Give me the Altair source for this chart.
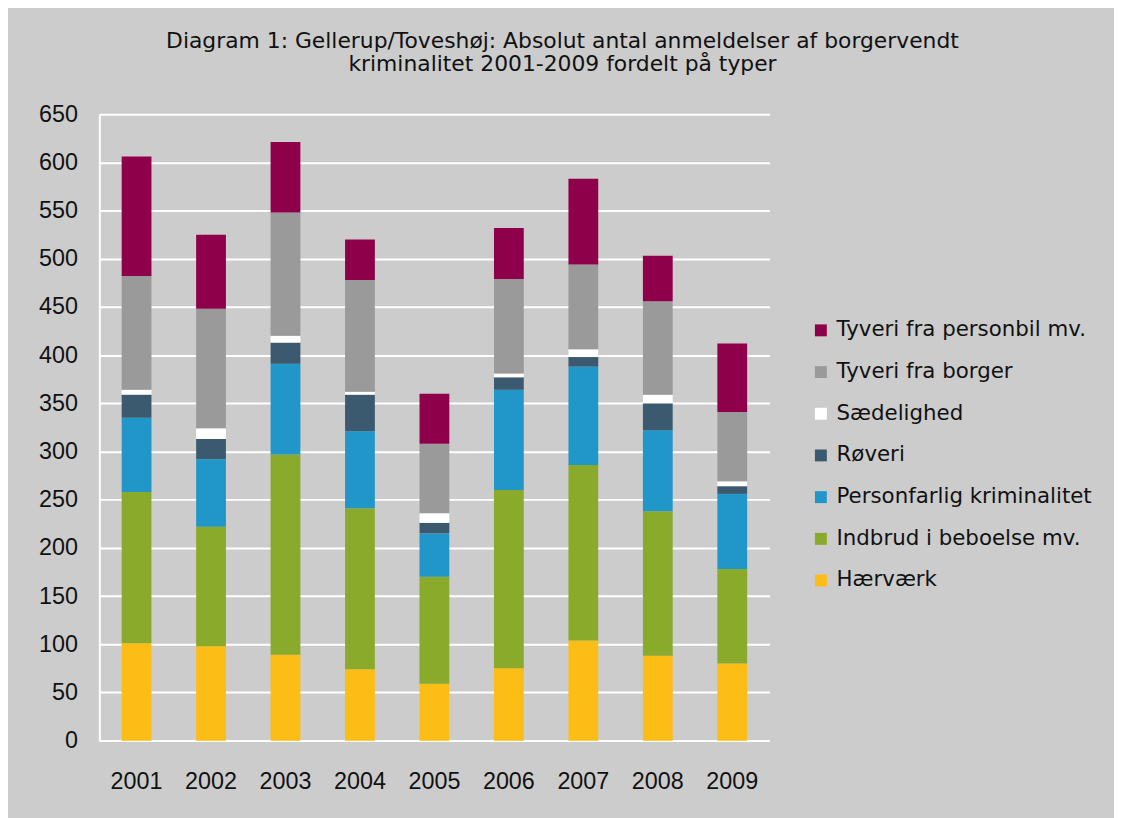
import altair as alt
import pandas as pd

years = ["2001", "2002", "2003", "2004", "2005", "2006", "2007", "2008", "2009"]

# stacking order: bottom to top
categories = [
    "Hærværk",
    "Indbrud i beboelse mv.",
    "Personfarlig kriminalitet",
    "Røveri",
    "Sædelighed",
    "Tyveri fra borger",
    "Tyveri fra personbil mv.",
]

haervaerk = [101, 98, 89, 74, 59, 75, 104, 88, 80]
indbrud = [157, 124, 208, 167, 111, 185, 182, 150, 98]
personfarlig = [77, 70, 94, 80, 45, 104, 102, 84, 78]
roeveri = [24, 21, 22, 38, 11, 13, 10, 28, 8]
saedelighed = [5, 11, 7, 3, 10, 4, 8, 9, 5]
tyveri_borger = [118, 124, 128, 116, 72, 98, 88, 97, 72]
tyveri_personbil = [124, 77, 73, 42, 52, 53, 89, 47, 71]

series = [haervaerk, indbrud, personfarlig, roeveri, saedelighed,
          tyveri_borger, tyveri_personbil]

colors = ["#fdbd17", "#8aaa2b", "#2196c8", "#3b5a6f", "#ffffff", "#9a9a9a", "#8f004a"]

y_ticks = list(range(0, 651, 50))

rows = []
for ci, (cat, vals) in enumerate(zip(categories, series)):
    for yr, v in zip(years, vals):
        rows.append({"year": yr, "type": cat, "value": v, "rank": ci})
df = pd.DataFrame(rows)

legend_order = categories[::-1]
color_range = colors[::-1]

label_font = "Liberation Sans"
text_font = "DejaVu Sans, sans-serif"

chart = (
    alt.Chart(df)
    .mark_bar(size=30)
    .encode(
        x=alt.X(
            "year:N",
            sort=years,
            title=None,
            scale=alt.Scale(paddingInner=0.6, paddingOuter=0.3),
            axis=alt.Axis(
                labelAngle=0,
                ticks=False,
                labelPadding=29,
                labelFont=label_font,
                labelFontSize=23.5,
                labelColor="#111111",
                domainColor="#ffffff",
                domainWidth=2,
                grid=False,
            ),
        ),
        y=alt.Y(
            "value:Q",
            stack="zero",
            title=None,
            scale=alt.Scale(domain=[0, 650], nice=False),
            axis=alt.Axis(
                values=y_ticks,
                ticks=False,
                labelPadding=22,
                labelFont=label_font,
                labelFontSize=23.5,
                labelColor="#111111",
                domainColor="#ffffff",
                domainWidth=2,
                gridColor="#ffffff",
                gridWidth=2,
            ),
        ),
        color=alt.Color(
            "type:N",
            scale=alt.Scale(domain=legend_order, range=color_range),
            legend=alt.Legend(
                title=None,
                orient="none",
                legendX=716,
                legendY=207,
                symbolType="square",
                symbolSize=144,
                symbolStrokeWidth=0,
                symbolOpacity=1,
                labelFont=text_font,
                labelFontSize=21.5,
                labelColor="#111111",
                labelOffset=5,
                rowPadding=19,
                padding=0,
                labelLimit=400,
            ),
        ),
        order=alt.Order("rank:Q", sort="ascending"),
    )
    .properties(
        width=675,
        height=631,
        autosize=alt.AutoSizeParams(type="none"),
        padding={"left": 92, "top": 104, "right": 347, "bottom": 75},
        background="#cccccc",
        title=alt.TitleParams(
            text=[
                "Diagram 1: Gellerup/Toveshøj: Absolut antal anmeldelser  af borgervendt",
                "kriminalitet 2001-2009 fordelt på typer",
            ],
            font=text_font,
            fontSize=22,
            fontWeight="normal",
            color="#111111",
            anchor="middle",
            dx=129,
            offset=26,
            lineHeight=24,
        ),
    )
    .configure_view(strokeWidth=0)
)

chart.save("out.html", embed_options={"renderer": "svg", "actions": False})
